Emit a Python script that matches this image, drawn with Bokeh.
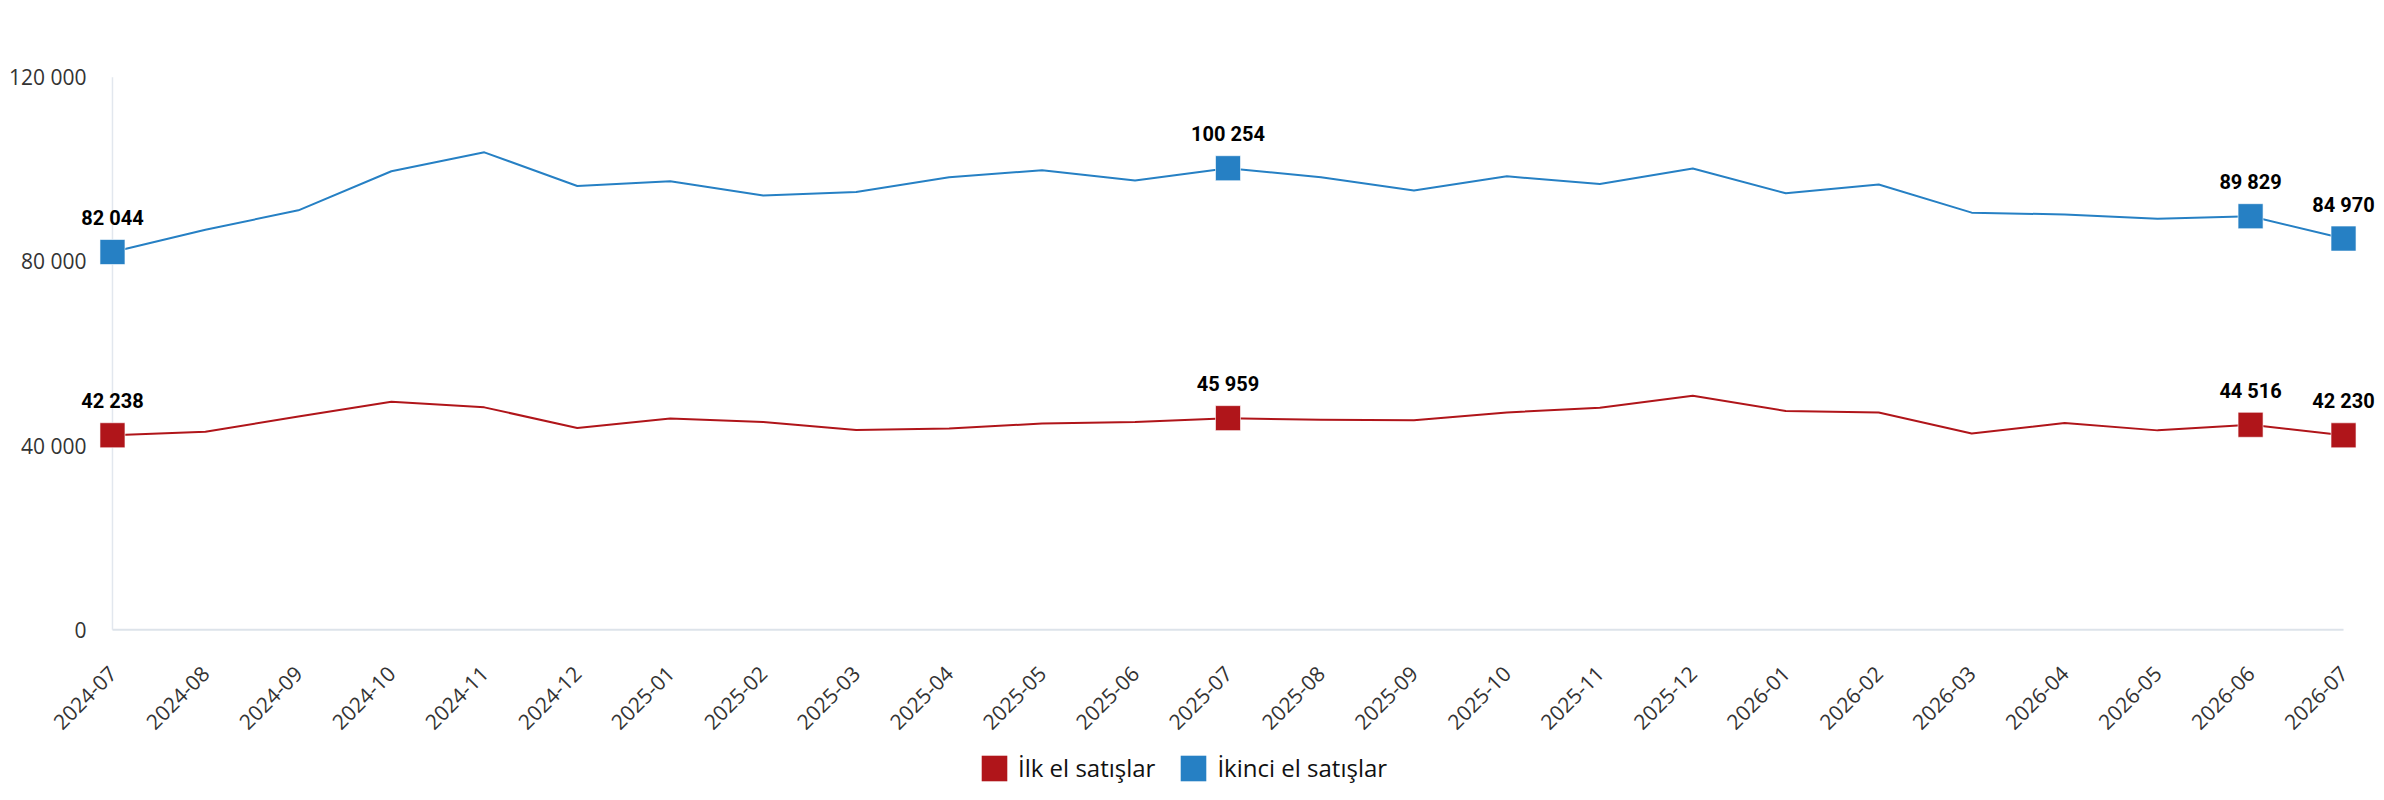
import math
from bokeh.plotting import figure
from bokeh.layouts import column
from bokeh.models import Range1d, FixedTicker
from bokeh.core.properties import value
from bokeh.embed import file_html
from bokeh.resources import INLINE

months = ["2024-07", "2024-08", "2024-09", "2024-10", "2024-11", "2024-12",
          "2025-01", "2025-02", "2025-03", "2025-04", "2025-05", "2025-06",
          "2025-07", "2025-08", "2025-09", "2025-10", "2025-11", "2025-12",
          "2026-01", "2026-02", "2026-03", "2026-04", "2026-05", "2026-06",
          "2026-07"]

ilk_el = [42238, 43000, 46300, 49500, 48300, 43800,
          45900, 45100, 43400, 43700, 44800, 45100,
          45959, 45600, 45500, 47200, 48200, 50800,
          47500, 47200, 42600, 44900, 43300, 44516,
          42230]

ikinci_el = [82044, 86900, 91100, 99600, 103700, 96400,
             97400, 94300, 95100, 98300, 99800, 97600,
             100254, 98300, 95400, 98500, 96800, 100200,
             94800, 96700, 90600, 90200, 89300, 89829,
             84970]

highlight = [0, 12, 23, 24]
y_ticks = [0, 40000, 80000, 120000]
series_names = ["İlk el satışlar", "İkinci el satışlar"]
colors = ["#b0151a", "#2680c4"]


def fmt(v):
    return f"{v:,}".replace(",", " ")


xs = list(range(len(months)))
pad = 0.344

p = figure(width=2384, height=746, output_backend="svg", toolbar_location=None,
           x_range=Range1d(-pad, xs[-1] + pad), y_range=Range1d(-3000, 123000),
           min_border_left=80, min_border_right=9, min_border_top=63,
           min_border_bottom=103)
p.outline_line_color = None
p.xgrid.grid_line_color = None
p.ygrid.grid_line_color = None
p.background_fill_color = "white"
p.border_fill_color = "white"

# x axis
p.xaxis.ticker = FixedTicker(ticks=xs)
p.xaxis.major_label_overrides = {i: m for i, m in zip(xs, months)}
p.xaxis.major_label_orientation = math.pi / 4
p.xaxis.axis_line_color = None
p.xaxis.major_tick_line_color = None
p.xaxis.minor_tick_line_color = None
p.xaxis.major_tick_out = 0
p.xaxis.major_tick_in = 0
p.xaxis.major_label_standoff = 26
p.xaxis.major_label_text_font = "Open Sans"
p.xaxis.major_label_text_font_size = "21px"
p.xaxis.major_label_text_color = "#333333"

# y axis
p.yaxis.ticker = FixedTicker(ticks=y_ticks)
p.yaxis.major_label_overrides = {t: fmt(t) for t in y_ticks}
p.yaxis.axis_line_color = None
p.yaxis.major_tick_line_color = None
p.yaxis.minor_tick_line_color = None
p.yaxis.major_tick_out = 0
p.yaxis.major_tick_in = 0
p.yaxis.major_label_standoff = -6
p.yaxis.major_label_text_font = "Open Sans"
p.yaxis.major_label_text_font_size = "21px"
p.yaxis.major_label_text_color = "#333333"

# axis base lines
p.segment(x0=[xs[0]], y0=[y_ticks[0]], x1=[xs[-1]], y1=[y_ticks[0]],
          line_color="#dde3ea", line_width=2)
p.segment(x0=[xs[0]], y0=[y_ticks[0]], x1=[xs[0]], y1=[y_ticks[-1]],
          line_color="#e2e7ee", line_width=1.5)

for series, col in zip([ilk_el, ikinci_el], colors):
    p.line(xs, series, line_color=col, line_width=2, line_join="round")
    hx = [xs[i] for i in highlight]
    hy = [series[i] for i in highlight]
    p.scatter(hx, hy, marker="square", size=25, fill_color=col,
              line_color="white", line_width=1, line_alpha=0.6)
    p.text(hx, hy, text=[fmt(v) for v in hy], text_font=value("Roboto"),
           text_font_style="bold", text_font_size="20px", text_color="#000000",
           text_align="center", text_baseline="alphabetic", y_offset=-34)

# legend strip
q = figure(width=2384, height=44, output_backend="svg", toolbar_location=None,
           x_range=Range1d(0, 1), y_range=Range1d(0, 1),
           x_axis_location=None, y_axis_location=None,
           min_border_left=0, min_border_right=0, min_border_top=0,
           min_border_bottom=0)
q.grid.visible = False
q.outline_line_color = None
for name, col in zip(series_names, colors):
    # zero-size quad: only its legend swatch is visible
    q.quad(left=[0], right=[0], top=[0], bottom=[0], fill_color=col,
           line_color=None, legend_label=name)

lg = q.legend[0]
lg.location = (898, 6)
lg.orientation = "horizontal"
lg.glyph_width = 32
lg.glyph_height = 32
lg.label_height = 32
lg.label_standoff = 8
lg.spacing = 22
lg.padding = 0
lg.margin = 0
lg.border_line_color = None
lg.background_fill_alpha = 0
lg.label_text_font = "Open Sans"
lg.label_text_font_size = "24px"
lg.label_text_color = "#111111"

open("out.html", "w").write(file_html(column(p, q, spacing=0), INLINE))
